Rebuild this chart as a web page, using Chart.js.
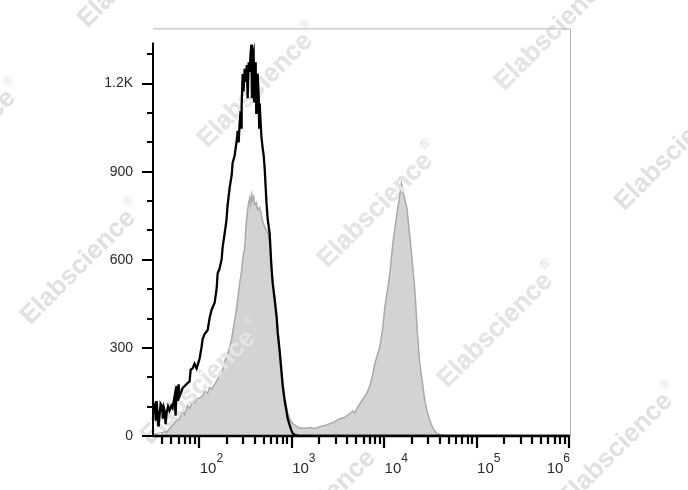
<!DOCTYPE html>
<html><head><meta charset="utf-8">
<script src="https://cdn.jsdelivr.net/npm/chart.js@4/dist/chart.umd.min.js"></script>
<style>html,body{margin:0;padding:0;background:#fff}canvas{display:block}</style>
</head><body>
<canvas id="c" width="688" height="490"></canvas>
<script>
// ---- data ----
const blackX = [31.7,32.9,34,34.6,36,36.5,37.2,38.2,39.5,40.5,
41.5,42.2,43.2,44.4,46,47.7,50,51.5,54.2,55.5,
56.9,58.3,59.8,61.4,64.5,66.1,69.5,74.9,78.7,80.8,
84.8,89,93.7,100.9,106,108.9,114.3,123.3,129.7,136.2,
146.9,154.6,158.2,166.3,175,179.3,188,196.5,203,213.3,
224.4,230,241.7,254,260.6,267,273.8,280,284,287.7,
295,302,310,316,327,334,343,351.6,360,366.7,
372,378.4,388,393,398,408,414,420,428.6,440,
445,450.8,461,470,486,498,510.5,533,550.8,578.5,
603.6,623.7,655.1,688.5,706,742.2,774.5,800,840.7,877,
906,952.5,993,1025,1079,1134,1223,1000000];
const blackY = [90,103,52,119,36,86,69,110,103,59,
95,86,40,79,100,86,103,96,136,69,
170,119,176,136,153,163,170,180,186,226,
230,246,230,263,303,330,347,360,403,430,
454,504,554,571,604,644,688,731,788,845,
888,931,955,1005,1039,1000,1066,1106,1050,1123,
1233,1173,1250,1206,1263,1150,1273,1240,1306,1333,
1150,1290,1306,1140,1240,1273,1100,1189,1233,1156,
1050,1133,1072,1022,979,955,912,798,738,688,
577,520,464,403,353,287,220,170,119,86,
59,36,19,9,4,2,0,0];

const grayX = [31.7,32.9,37.2,40.5,42.2,44.4,47.7,51.5,54.2,56.9,
61.4,66.1,69.5,74.9,78.7,84.8,89,93.7,100.9,108.9,
114.3,123.3,129.7,136.2,146.9,158.2,166.3,179.3,188,203,
213.3,224.4,230,241.7,254,260.6,273.8,287.7,295,310,
323.6,334,343,351.6,360,370,378.4,388,398,415,
428.6,450.8,470,486,510.5,533,550.8,578.5,603.6,623.7,
655.1,688.5,706,742.2,774.5,800,840.7,877,906,952.5,
1025,1134,1223,1384,1567,1778,2013,2280,2582,2924,
3311,3750,4246,4600,4815,5200,5454,5900,6177,6500,
7000,7551,7930,8337,8985,9683,10170,10960,11530,12420,
13060,14070,14790,15400,15900,16760,17620,18970,19950,21490,
23170,24320,25590,27590,29720,31260,33660,37200,43190,51400,
1000000];
const grayY = [4,6,9,12,19,12,26,36,46,52,
59,86,73,103,93,119,113,126,130,136,
153,146,166,160,176,193,213,226,253,280,
303,330,353,394,437,464,521,564,604,638,
731,771,795,811,788,822,805,815,788,794,
771,778,755,730,712,700,690,660,580,528,
472,412,364,298,237,187,134,102,80,58,
42,33,27,26,29,26,32,36,42,49,
59,63,76,86,79,99,109,126,136,146,
170,210,246,269,303,370,437,503,554,655,
705,778,822,861,838,805,778,680,611,497,
330,246,196,119,76,53,26,9,1,0,
0];

const yTickValues = [0, 300, 600, 900, 1200];
const yTickLabels = ['0', '300', '600', '900', '1.2K'];
const yMinorStep = 100;
const yAxisLineTop = 1340;
const xTickValues = [1e2, 1e3, 1e4, 1e5, 1e6];
const xTickBase = '10';
const xTickExponents = ['2', '3', '4', '5', '6'];
const xMin = 31.62, xMax = 1e6, yMin = 0, yMax = 1388;

const watermarkText = 'Elabscience';
const watermarkCenters = [[258,85],[378,205],[498,325],[618,445],[138,-35],[555,28],[675,148],[81,262],[201,382],[321,502],[-39,142]];

// ---- plugins ----
function drawWatermarks(ctx, color) {
  ctx.save();
  ctx.fillStyle = color;
  for (const [cx, cy] of watermarkCenters) {
    ctx.save();
    ctx.translate(cx, cy);
    ctx.rotate(-Math.PI / 4);
    ctx.font = 'bold 26px "Liberation Sans", Arial, sans-serif';
    const w1 = ctx.measureText(watermarkText).width;
    ctx.font = '13px "Liberation Sans", Arial, sans-serif';
    const w2 = ctx.measureText('®').width;
    const x0 = -(w1 + w2 + 2) / 2;
    ctx.font = 'bold 26px "Liberation Sans", Arial, sans-serif';
    ctx.textBaseline = 'alphabetic';
    ctx.fillText(watermarkText, x0, 9);
    ctx.font = '13px "Liberation Sans", Arial, sans-serif';
    ctx.fillText('®', x0 + w1 + 2, -6);
    ctx.restore();
  }
  ctx.restore();
}

const watermarkPlugin = {
  id: 'wm',
  beforeDraw(chart) { drawWatermarks(chart.ctx, 'rgb(224,224,224)'); },
  afterDatasetDraw(chart, args) {
    if (args.index !== 1) return;
    const ctx = chart.ctx, a = chart.chartArea;
    ctx.save();
    ctx.beginPath(); ctx.rect(a.left, a.top, a.right - a.left, a.bottom - a.top); ctx.clip();
    ctx.globalCompositeOperation = 'lighten';
    drawWatermarks(ctx, 'rgb(228,228,228)');
    ctx.restore();
  }
};

const axesPlugin = {
  id: 'axes',
  afterDraw(chart) {
    const ctx = chart.ctx;
    const {left, right, top, bottom} = chart.chartArea;
    const xs = chart.scales.x, ys = chart.scales.y;
    ctx.save();
    // light frame
    ctx.strokeStyle = '#b4b4b4'; ctx.lineWidth = 1;
    ctx.beginPath();
    ctx.moveTo(left, top + 0.5); ctx.lineTo(right + 1.5, top + 0.5); ctx.lineTo(right + 1.5, bottom);
    ctx.stroke();
    // y axis line
    ctx.strokeStyle = '#000'; ctx.lineWidth = 2;
    ctx.beginPath(); ctx.moveTo(left, ys.getPixelForValue(yAxisLineTop)); ctx.lineTo(left, bottom + 1); ctx.stroke();
    // x axis line
    ctx.lineWidth = 2.5;
    ctx.beginPath(); ctx.moveTo(left - 1, bottom); ctx.lineTo(right + 1, bottom); ctx.stroke();
    // y ticks
    ctx.lineWidth = 2;
    for (let v = yMin; v <= yAxisLineTop; v += yMinorStep) {
      const py = Math.round(ys.getPixelForValue(v));
      const major = yTickValues.includes(v);
      ctx.beginPath(); ctx.moveTo(left - (major ? 11 : 6), py); ctx.lineTo(left, py); ctx.stroke();
    }
    // x ticks
    ctx.lineWidth = 2.2;
    for (let e = 1; e <= 6; e++) {
      for (let m = 1; m <= 9; m++) {
        const v = m * Math.pow(10, e);
        if (v < xMin || v > xMax * 1.0001) continue;
        const px = Math.round(xs.getPixelForValue(v));
        ctx.beginPath(); ctx.moveTo(px, bottom); ctx.lineTo(px, bottom + (m === 1 ? 12 : 8)); ctx.stroke();
      }
    }
    // x labels 10^n
    ctx.fillStyle = '#2a2a2a';
    ctx.textBaseline = 'alphabetic';
    xTickValues.forEach((v, i) => {
      const px = xs.getPixelForValue(v);
      ctx.font = '15px "Liberation Sans", Arial, sans-serif';
      const wb = ctx.measureText(xTickBase).width;
      ctx.font = '12px "Liberation Sans", Arial, sans-serif';
      const we = ctx.measureText(xTickExponents[i]).width;
      let x0 = px + 0.5;
      if (i === xTickValues.length - 1) x0 = px + 1 - wb - we;
      ctx.font = '15px "Liberation Sans", Arial, sans-serif';
      ctx.fillText(xTickBase, x0, 473);
      ctx.font = '12px "Liberation Sans", Arial, sans-serif';
      ctx.fillText(xTickExponents[i], x0 + wb, 462);
    });
    ctx.restore();
  }
};

const toPts = (xa, ya) => xa.map((x, i) => ({x: x, y: ya[i]}));

new Chart(document.getElementById('c'), {
  type: 'line',
  data: {
    datasets: [
      { label: 'unstained', data: toPts(blackX, blackY), borderColor: '#000', borderWidth: 2.3,
        pointRadius: 0, fill: false, tension: 0, order: 0 },
      { label: 'stained', data: toPts(grayX, grayY), borderColor: '#a9a9a9', borderWidth: 1.5,
        backgroundColor: '#d3d3d3', pointRadius: 0, fill: 'origin', tension: 0, order: 1 }
    ]
  },
  options: {
    responsive: false, animation: false, devicePixelRatio: 1,
    layout: { padding: { left: 0, top: 21, right: 119, bottom: 0 } },
    plugins: { legend: { display: false }, tooltip: { enabled: false } },
    scales: {
      x: {
        type: 'logarithmic', min: xMin, max: xMax,
        grid: { display: false, drawTicks: false }, border: { display: false },
        ticks: { display: false },
        afterFit(s) { s.height = 54; }
      },
      y: {
        type: 'linear', min: yMin, max: yMax,
        grid: { display: false, drawTicks: false }, border: { display: false },
        afterBuildTicks(s) { s.ticks = yTickValues.map(v => ({ value: v })); },
        ticks: {
          padding: 20, color: '#2a2a2a',
          font: { family: '"Liberation Sans", Arial, sans-serif', size: 14 },
          callback: (v) => { const i = yTickValues.indexOf(v); return i >= 0 ? yTickLabels[i] : ''; }
        },
        afterFit(s) { s.width = 153; }
      }
    }
  },
  plugins: [watermarkPlugin, axesPlugin]
});
</script>
</body></html>
